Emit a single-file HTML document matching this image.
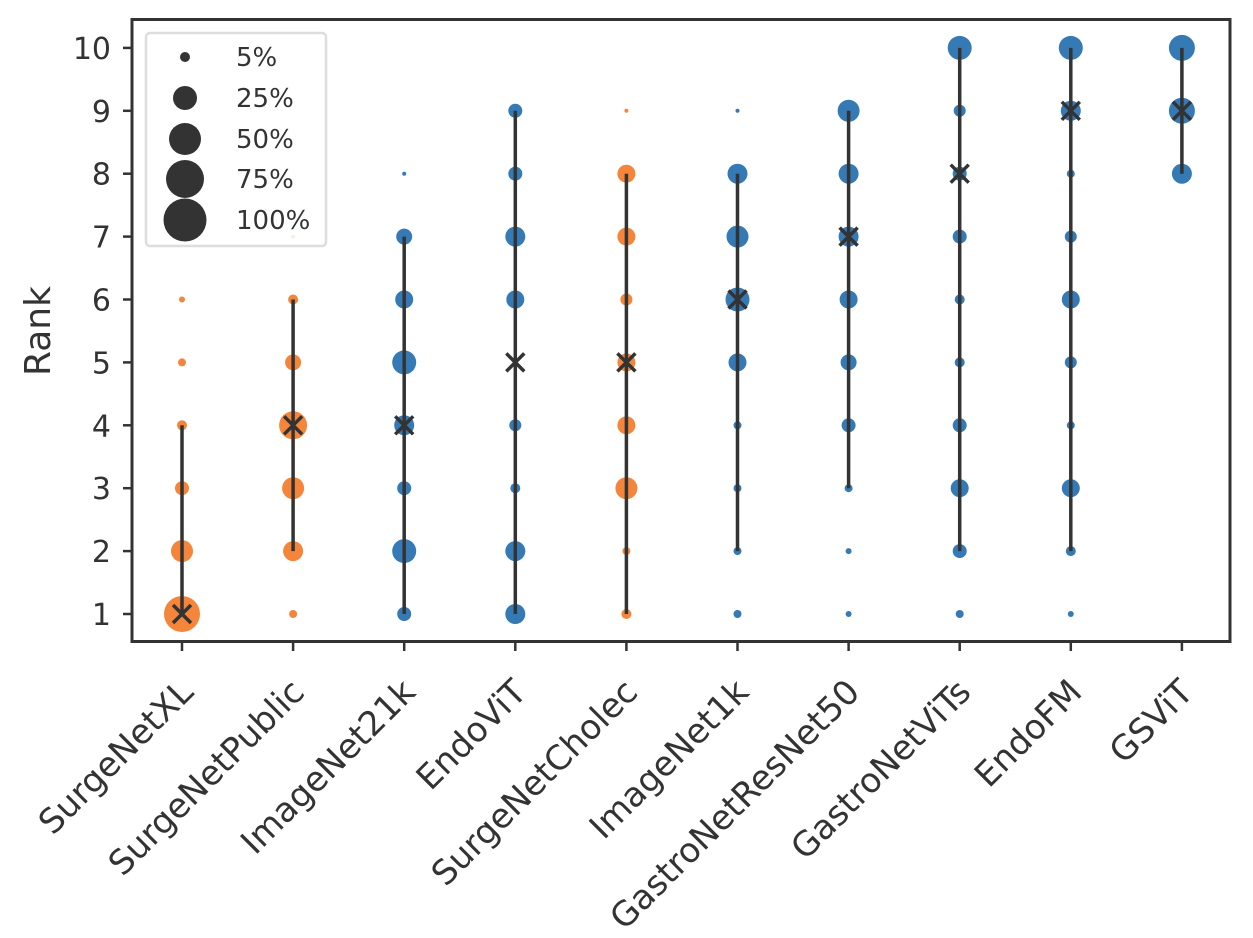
<!DOCTYPE html>
<html><head><meta charset="utf-8"><style>body{margin:0;background:#fff}svg{display:block}</style></head>
<body>
<svg width="1253" height="938" xmlns="http://www.w3.org/2000/svg" font-family="DejaVu Sans, Liberation Sans, sans-serif" fill="#333">
<g id="plot"></g>
<script>
const svg=document.getElementById('plot');
const ns='http://www.w3.org/2000/svg';
function el(t,a,txt){const e=document.createElementNS(ns,t);for(const k in a)e.setAttribute(k,a[k]);if(txt!==undefined)e.textContent=txt;svg.appendChild(e);return e;}
const Y=r=>614-(r-1)*62.9;
const names=["SurgeNetXL","SurgeNetPublic","ImageNet21k","EndoViT","SurgeNetCholec","ImageNet1k","GastroNetResNet50","GastroNetViTs","EndoFM","GSViT"];
const xs=names.map((_,i)=>182+i*111.1);
const O="#f5853a",B="#3579b5";
const data=[
 [O,[[1,18],[2,11],[3,7],[4,5],[5,4],[6,3]],1,4,1],
 [O,[[1,4],[2,10],[3,11],[4,14],[5,8],[6,5],[7,2]],2,6,4],
 [B,[[1,7],[2,12],[3,7],[4,10],[5,12],[6,9],[7,8],[8,2]],1,7,4],
 [B,[[1,10],[2,10],[3,5],[4,6],[5,2],[6,9],[7,10],[8,7],[9,7]],1,9,5],
 [O,[[1,5],[2,4],[3,11],[4,9],[5,9],[6,6],[7,9],[8,9],[9,2]],1,8,5],
 [B,[[1,4],[2,4],[3,4],[4,4],[5,9],[6,12],[7,11],[8,10],[9,2]],2,8,6],
 [B,[[1,3],[2,3],[3,4],[4,7],[5,8],[6,9],[7,10],[8,10],[9,11]],3,9,7],
 [B,[[1,4],[2,7],[3,9],[4,7],[5,5],[6,5],[7,7],[8,7],[9,6],[10,12]],2,10,8],
 [B,[[1,3],[2,5],[3,9],[4,4],[5,6],[6,9],[7,6],[8,4],[9,10],[10,12]],2,10,9],
 [B,[[8,10],[9,13],[10,13]],8,10,9]
];
data.forEach((d,i)=>{const x=xs[i];
 d[1].forEach(([r,s])=>el('circle',{cx:x,cy:Y(r),r:s,fill:d[0]}));
 el('line',{x1:x,x2:x,y1:Y(d[2]),y2:Y(d[3]),stroke:'#333','stroke-width':3.5});
 const m=Y(d[4]),k=9;
 el('path',{d:`M${x-k},${m-k}L${x+k},${m+k}M${x-k},${m+k}L${x+k},${m-k}`,stroke:'#333','stroke-width':3.5});
});
el('rect',{x:132,y:19.5,width:1098,height:622,fill:'none',stroke:'#333','stroke-width':3});
for(let r=1;r<=10;r++){const y=Y(r);el('line',{x1:123,x2:132,y1:y,y2:y,stroke:'#333','stroke-width':2.5});
 el('text',{x:111,y:y+11,'text-anchor':'end','font-size':30},String(r));}
xs.forEach((x,i)=>{el('line',{x1:x,x2:x,y1:642,y2:651,stroke:'#333','stroke-width':2.5});
 el('text',{x:x+13,y:694,'text-anchor':'end','font-size':34,transform:`rotate(-45 ${x+13} 694)`},names[i]);});
el('text',{x:50,y:331,'text-anchor':'middle','font-size':36,transform:'rotate(-90 50 331)'},'Rank');
el('rect',{x:146,y:33,width:180,height:213,rx:4,fill:'#fff','fill-opacity':0.85,stroke:'#ddd','stroke-width':2.5});
[[5,5,66],[25,12,107],[50,16,148],[75,19,188],[100,21.5,229]].forEach(([p,r,y])=>{
 el('circle',{cx:185,cy:y-9,r:r,fill:'#333'});
 el('text',{x:236,y:y,'font-size':26},p+'%');});
</script>
</svg>
</body></html>
